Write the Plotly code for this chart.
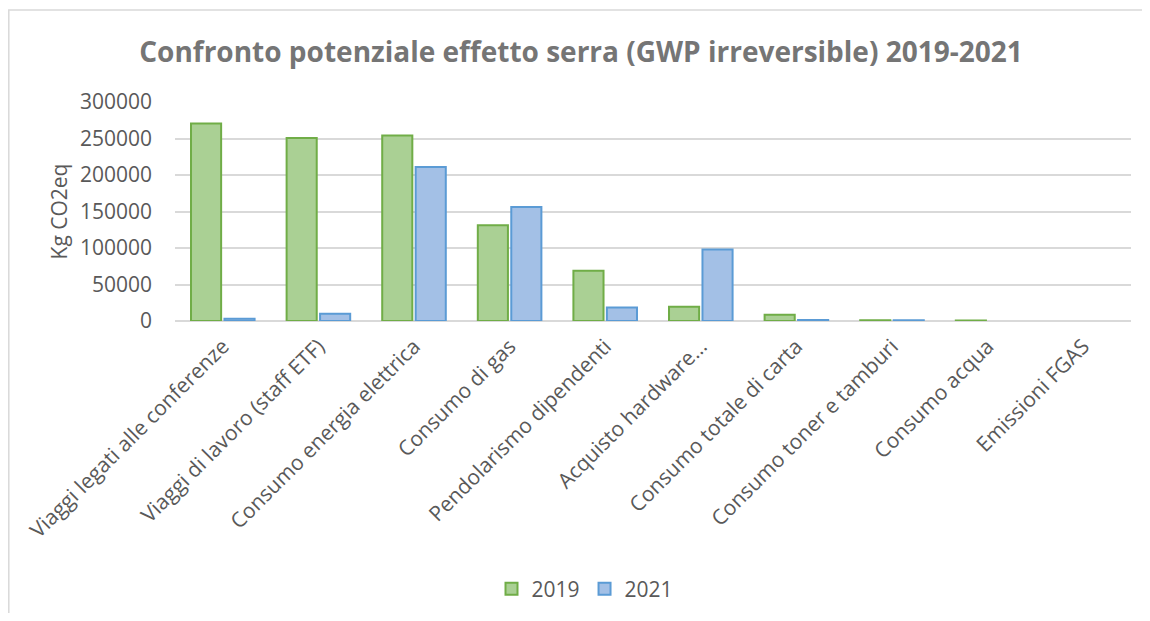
import plotly.graph_objects as go

categories = [
    "Viaggi legati alle conferenze",
    "Viaggi di lavoro (staff ETF)",
    "Consumo energia elettrica",
    "Consumo di gas",
    "Pendolarismo dipendenti",
    "Acquisto hardware…",
    "Consumo totale di carta",
    "Consumo toner e tamburi",
    "Consumo acqua",
    "Emissioni FGAS",
]
values_2019 = [270500, 250700, 254000, 131000, 69000, 19500, 8500, 900, 700, None]
values_2021 = [3000, 10000, 211000, 156000, 18500, 97800, 1500, 900, None, None]
y_ticks = [0, 50000, 100000, 150000, 200000, 250000, 300000]

# page offset of the figure div (body margin)
OFF = 8
W, H = 1150 - 2 * OFF, 621 - 2 * OFF
L, R, T, B = 175 - OFF, 1131 - OFF, 102 - OFF, 321 - OFF
FONT = "Open Sans"
TXT = "#595959"
FS = 21


def px_x(p):
    return (p - OFF - L) / (R - L)


def px_y(p):
    return (B - (p - OFF)) / (B - T)


fig = go.Figure()
fig.add_trace(go.Bar(
    name="2019", x=categories, y=values_2019,
    marker=dict(color="#aad094", line=dict(color="#70ad47", width=2)),
))
fig.add_trace(go.Bar(
    name="2021", x=categories, y=values_2021,
    marker=dict(color="#a3c0e6", line=dict(color="#5b9bd5", width=2)),
))

fig.update_layout(
    width=W, height=H,
    margin=dict(l=L, r=W - R, t=T, b=H - B, pad=0),
    paper_bgcolor="white", plot_bgcolor="white",
    barmode="group", bargap=0.3, bargroupgap=0.1,
    font=dict(family=FONT, color=TXT, size=FS),
    title=dict(
        text="<b>Confronto potenziale effetto serra (GWP irreversible) 2019-2021</b>",
        font=dict(family=FONT, size=28, color="#757575"),
        x=(581 - OFF) / W, xref="container", xanchor="center",
        y=1 - (52 - OFF) / H, yref="container", yanchor="middle",
    ),
    showlegend=True,
    legend=dict(
        orientation="h", x=(585 - OFF) / W, xref="container", xanchor="center",
        y=1 - (589 - OFF) / H, yref="container", yanchor="middle",
        font=dict(size=FS, color=TXT), traceorder="normal",
    ),
    xaxis=dict(
        tickangle=-45, showgrid=False, showline=False, ticks="",
        tickfont=dict(size=FS, color=TXT), ticklabelstandoff=8,
    ),
    yaxis=dict(
        range=[0, 300000], tickvals=y_ticks, ticktext=[str(v) for v in y_ticks],
        showgrid=True, gridcolor="#d9d9d9", gridwidth=1.7, zeroline=True,
        zerolinecolor="#d9d9d9", zerolinewidth=1.7, showline=False, ticks="",
        tickfont=dict(size=FS, color=TXT), ticklabelstandoff=22,
        title=dict(text="Kg CO2eq", font=dict(size=FS, color=TXT), standoff=6),
    ),
    shapes=[dict(
        type="rect", xref="paper", yref="paper",
        x0=px_x(8.8), x1=px_x(1160), y0=px_y(640), y1=px_y(10),
        line=dict(color="#d9d9d9", width=1.5), fillcolor="rgba(0,0,0,0)", layer="below",
    )],
)

fig.write_html("out.html")
